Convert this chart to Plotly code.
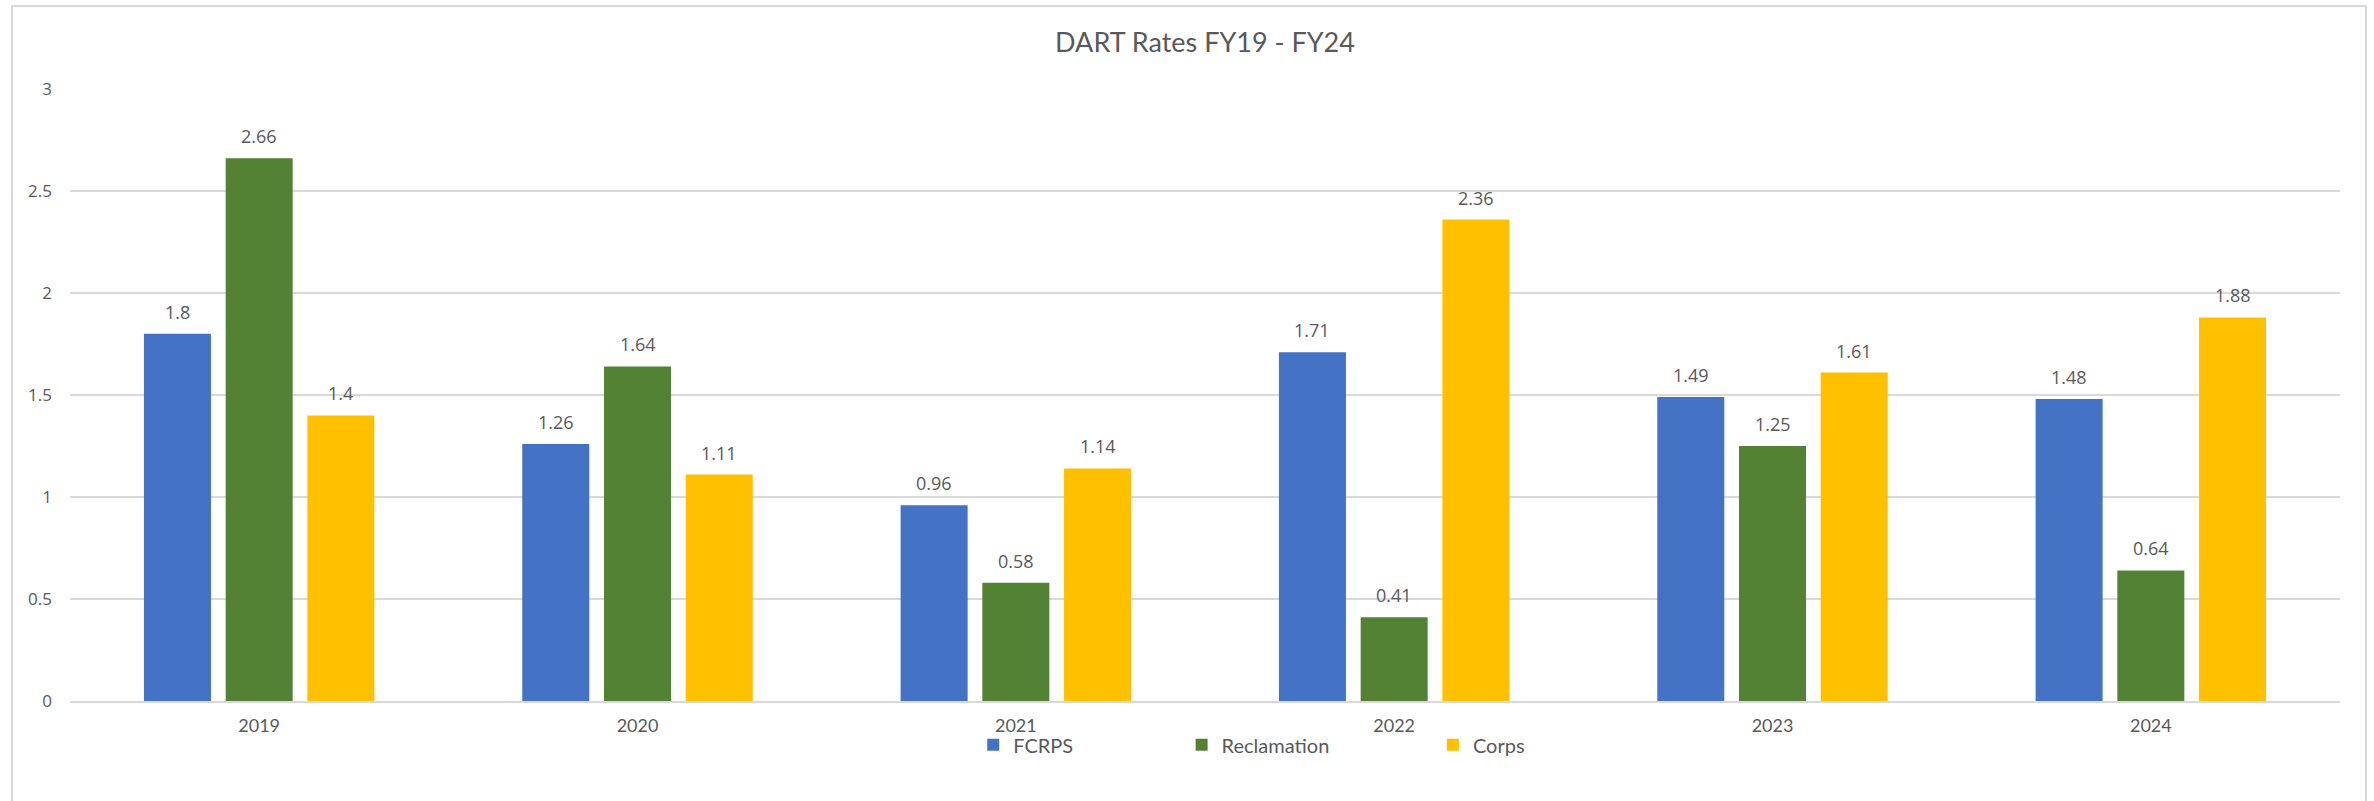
import plotly.graph_objects as go

years = ["2019", "2020", "2021", "2022", "2023", "2024"]
fcrps = [1.8, 1.26, 0.96, 1.71, 1.49, 1.48]
reclamation = [2.66, 1.64, 0.58, 0.41, 1.25, 0.64]
corps = [1.4, 1.11, 1.14, 2.36, 1.61, 1.88]
y_ticks = [0, 0.5, 1, 1.5, 2, 2.5, 3]
y_tick_text = ["0", "0.5", "1", "1.5", "2", "2.5", "3"]

GREY = "#595959"
series = [
    ("FCRPS", fcrps, "#4472C4", "legend", 0.3979),
    ("Reclamation", reclamation, "#548235", "legend2", 0.4897),
    ("Corps", corps, "#FFC000", "legend3", 0.6004),
]

# geometry (pixels) of the plotting area
W, H = 2374, 801
ML, MR, MT, MB = 70, 34, 89, 100
plot_w = W - ML - MR
plot_h = H - MT - MB
BARGAP, BARGROUPGAP = 0.352, 0.18
cat_px = plot_w / len(years)
slot_px = cat_px * (1 - BARGAP) / len(series)

fig = go.Figure()
for name, vals, color, leg, _ in series:
    fig.add_trace(go.Bar(
        x=years, y=vals, name=name,
        marker=dict(color=color, line=dict(width=0)),
        legend=leg,
        hovertemplate="%{x}: %{y}<extra>" + name + "</extra>",
    ))

# data labels placed above each bar (Excel-style spacing);
# on a category axis the annotation x is the category index
annotations = []
for i, (name, vals, color, leg, _) in enumerate(series):
    xs = (i - (len(series) - 1) / 2) * slot_px
    for j, v in enumerate(vals):
        annotations.append(dict(
            x=j, y=v, xref="x", yref="y", text=f"{v:g}",
            showarrow=False, xshift=xs, yshift=22, yanchor="middle",
            font=dict(family="Open Sans", size=18, color=GREY),
        ))

legend_common = dict(
    orientation="h", yanchor="middle", y=-0.0715, xanchor="left",
    font=dict(family="Lato", size=20, color=GREY),
    bgcolor="rgba(0,0,0,0)", borderwidth=0,
)
layout_legends = {}
for name, vals, color, leg, xpos in series:
    layout_legends[leg] = dict(legend_common, x=xpos)

fig.update_layout(
    width=W, height=H,
    margin=dict(l=ML, r=MR, t=MT, b=MB),
    paper_bgcolor="white", plot_bgcolor="white",
    barmode="group", bargap=BARGAP, bargroupgap=BARGROUPGAP,
    title=dict(
        text="DART Rates FY19 - FY24",
        font=dict(family="Lato", size=27, color=GREY),
        x=0.5, xanchor="center", xref="paper",
        y=1 - 43 / H, yanchor="middle", yref="container",
    ),
    showlegend=True,
    annotations=annotations,
    **layout_legends,
)

fig.update_xaxes(
    type="category", categoryorder="array", categoryarray=years,
    range=[-0.5, len(years) - 0.5], autorange=False,
    showgrid=False, showline=True, linecolor="#D9D9D9", linewidth=1.5,
    ticks="", tickfont=dict(family="Lato", size=18, color=GREY),
    ticklabelstandoff=8, zeroline=False,
)
fig.update_yaxes(
    range=[0, 3], autorange=False, tickvals=y_ticks, ticktext=y_tick_text,
    showgrid=True, gridcolor="#D9D9D9", gridwidth=1.5,
    zeroline=False, showline=False, ticks="",
    tickfont=dict(family="Open Sans", size=17, color=GREY),
    ticklabelstandoff=17,
)

# outer chart border (Excel chart area), extends past the bottom edge
fig.add_shape(
    type="rect", xref="paper", yref="paper",
    x0=(12 - ML) / plot_w, x1=(2366 - ML) / plot_w,
    y0=(H - MB - 830) / plot_h, y1=(H - MB - 6) / plot_h,
    line=dict(color="#D9D9D9", width=2), fillcolor="rgba(0,0,0,0)",
    layer="below",
)

fig.write_html(
    "out.html",
    config={"displayModeBar": False},
    post_script="document.body.style.margin='0';document.body.style.padding='0';",
)
